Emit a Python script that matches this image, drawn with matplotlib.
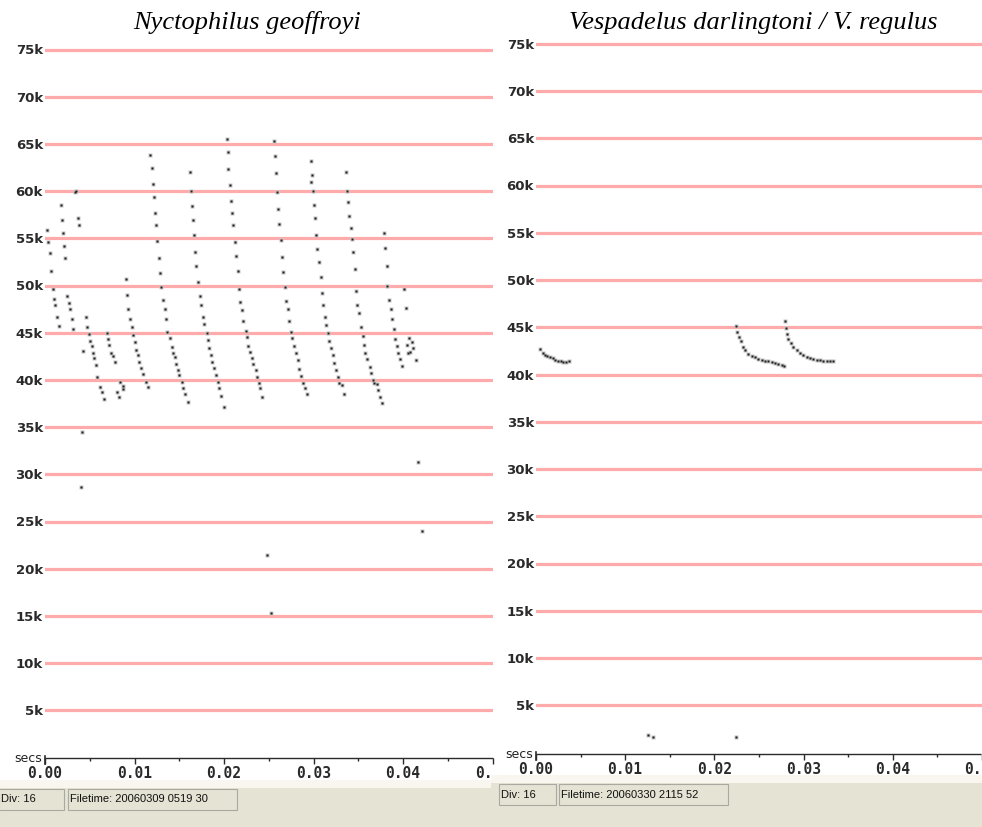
import matplotlib
matplotlib.use("Agg")
import matplotlib.pyplot as plt
from matplotlib.patches import Rectangle
import numpy as np

# ---------------- data ----------------
# Nyctophilus geoffroyi: zero-crossing dots, time (ms) and frequency (kHz), pulse by pulse
ng_ms = [
    0.26, 0.37, 0.56, 0.67, 0.86, 1.01, 1.12, 1.37, 1.53,
    1.75, 1.90, 2.01, 2.12, 2.27, 2.42, 2.65, 2.79, 2.98, 3.16,
    3.35, 3.50, 3.69, 3.80,
    4.25, 4.55, 4.69, 4.92, 5.06, 5.28, 5.40, 5.51, 5.66, 5.84, 6.15, 6.37, 6.63,
    6.89, 7.00, 7.15, 7.37, 7.56, 7.79, 8.08, 8.23, 8.38, 8.68, 8.75,
    9.05, 9.20, 9.31, 9.50, 9.68, 9.80, 10.02, 10.17, 10.39, 10.54, 10.73, 10.98, 11.25, 11.47,
    11.73, 11.92, 12.03, 12.18, 12.29, 12.40, 12.55, 12.70, 12.85, 12.99, 13.15, 13.37, 13.52,
    13.66, 13.97, 14.16, 14.33, 14.47, 14.67, 14.86, 14.97, 15.27, 15.45, 15.64, 15.94,
    16.20, 16.31, 16.39, 16.50, 16.68, 16.76, 16.87, 17.13, 17.29, 17.43, 17.65, 17.77,
    18.07, 18.18, 18.36, 18.51, 18.69, 18.92, 19.11, 19.30, 19.48, 19.70, 20.00,
    20.30, 20.41, 20.48, 20.67, 20.78, 20.93, 21.04, 21.23, 21.31, 21.53, 21.68, 21.79,
    22.05, 22.16, 22.42, 22.54, 22.71, 22.90, 23.09, 23.27, 23.54, 23.65, 23.91, 24.02, 24.28,
    25.59, 25.70, 25.81, 25.89, 26.07, 26.18, 26.34, 26.45, 26.63, 26.82, 26.93, 27.12,
    27.26, 27.45, 27.63, 27.82, 28.01, 28.24, 28.41, 28.60, 28.86, 29.05, 29.24,
    29.69, 29.80, 29.69, 29.91, 30.06, 30.17, 30.28, 30.42, 30.65, 30.84, 30.98, 31.09,
    31.28, 31.40, 31.65, 31.76, 31.95, 32.14, 32.32, 32.51, 32.77, 32.88, 33.15, 33.41,
    33.63, 33.71, 33.89, 34.00, 34.16, 34.27, 34.38, 34.64, 34.75, 34.89, 35.08, 35.27,
    35.50, 35.64, 35.75, 36.01, 36.31, 36.42, 36.61, 36.79, 37.06, 37.24, 37.43, 37.62,
    37.88, 38.02, 38.18, 38.25, 38.47, 38.63, 38.74, 39.00, 39.11, 39.36, 39.48, 39.66, 39.86,
    40.15, 40.34, 40.70, 40.97, 40.41, 40.78, 41.15, 40.59, 41.45,
    4.10, 4.02, 24.77, 25.25, 41.64, 42.09,
]
ng_khz = [
    55.9, 54.6, 53.4, 51.5, 49.6, 48.6, 47.9, 46.7, 45.7,
    58.5, 56.9, 55.6, 54.2, 52.9, 48.9, 48.1, 47.5, 46.4, 45.4,
    59.9, 60.0, 57.1, 56.4,
    43.1, 46.7, 45.6, 44.9, 44.1, 43.6, 42.9, 42.3, 41.6, 40.3, 39.2, 38.7, 38.0,
    45.0, 44.3, 43.7, 42.9, 42.5, 41.9, 38.7, 38.2, 39.8, 39.0, 39.4,
    50.7, 49.0, 47.5, 46.4, 45.6, 44.8, 44.0, 43.2, 42.6, 41.9, 41.3, 40.6, 39.8, 39.2,
    63.8, 62.4, 60.7, 59.4, 57.7, 56.4, 54.7, 52.9, 51.3, 49.8, 48.5, 47.5, 46.4,
    45.1, 44.4, 43.5, 42.9, 42.4, 41.7, 41.0, 40.5, 39.8, 39.1, 38.5, 37.7,
    62.0, 60.0, 58.4, 56.9, 55.3, 53.6, 52.1, 50.4, 48.9, 47.9, 46.7, 45.9,
    45.0, 44.2, 43.4, 42.6, 41.9, 41.3, 40.5, 39.8, 39.1, 38.3, 37.1,
    65.5, 64.1, 62.3, 60.6, 58.9, 57.7, 56.4, 54.6, 53.1, 51.5, 49.6, 48.3,
    47.4, 46.2, 45.2, 44.5, 43.6, 43.0, 42.3, 41.7, 41.0, 40.3, 39.7, 39.1, 38.2,
    65.3, 63.7, 61.9, 59.9, 58.1, 56.5, 54.8, 53.0, 51.4, 49.8, 48.4, 47.5,
    46.2, 45.1, 44.4, 43.6, 42.8, 42.1, 41.2, 40.4, 39.7, 39.1, 38.5,
    63.2, 61.7, 61.0, 60.0, 58.5, 57.1, 55.3, 53.9, 52.5, 50.9, 49.2, 47.9,
    46.7, 45.8, 45.0, 44.1, 43.4, 42.6, 41.8, 41.1, 40.3, 39.7, 39.5, 38.5,
    62.0, 60.0, 58.8, 57.4, 56.1, 54.9, 53.5, 51.7, 49.4, 47.9, 47.1, 45.6,
    44.7, 43.7, 42.9, 42.2, 41.4, 40.7, 40.0, 39.7, 39.6, 38.9, 38.2, 37.6,
    55.6, 54.0, 52.1, 49.9, 48.5, 47.5, 46.4, 45.4, 44.3, 43.6, 42.9, 42.2, 41.5,
    49.6, 47.6, 44.4, 44.0, 43.7, 43.0, 43.4, 42.9, 42.1,
    34.5, 28.7, 21.5, 15.3, 31.3, 24.0,
]

# Vespadelus darlingtoni / V. regulus: three shallow calls plus stray dots
vd_ms = [
    0.45, 0.75, 1.00, 1.26, 1.56, 1.86, 2.16, 2.46, 2.76, 3.05, 3.35, 3.65,
    22.35, 22.49, 22.68, 22.87, 23.09, 23.35, 23.72, 24.10, 24.47,
    24.84, 25.22, 25.59, 25.96, 26.34, 26.71, 27.08, 27.45, 27.71,
    27.82, 27.90, 28.01, 28.19, 28.46, 28.75, 29.13, 29.50, 29.87,
    30.25, 30.62, 30.99, 31.37, 31.74, 32.11, 32.49, 32.86, 33.22,
    12.48, 13.04, 22.35,
]
vd_khz = [
    42.7, 42.3, 42.1, 42.0, 41.8, 41.7, 41.5, 41.4, 41.4, 41.3, 41.3, 41.4,
    45.1, 44.5, 44.0, 43.5, 42.9, 42.6, 42.2, 42.0, 41.8,
    41.6, 41.5, 41.4, 41.4, 41.3, 41.2, 41.1, 41.0, 40.9,
    45.7, 44.9, 44.3, 43.8, 43.3, 42.9, 42.6, 42.3, 42.1,
    41.9, 41.7, 41.6, 41.5, 41.5, 41.4, 41.4, 41.4, 41.4,
    1.85, 1.67, 1.67,
]

freq_ticks = [5, 10, 15, 20, 25, 30, 35, 40, 45, 50, 55, 60, 65, 70, 75]
freq_labels = [f"{v}k" for v in freq_ticks]
time_ticks = [0.00, 0.01, 0.02, 0.03, 0.04, 0.05]
time_minor = [0.005, 0.015, 0.025, 0.035, 0.045]

titles = ["Nyctophilus geoffroyi", "Vespadelus darlingtoni / V. regulus"]
status_div = ["Div: 16", "Div: 16"]
status_time = ["Filetime: 20060309 0519 30", "Filetime: 20060330 2115 52"]

# ---------------- figure ----------------
W, H = 982, 827
fig = plt.figure(figsize=(W / 100, H / 100), dpi=100)
fig.patch.set_facecolor("white")


def px_axes(x0, y0, x1, y1):
    return fig.add_axes([x0 / W, 1 - y1 / H, (x1 - x0) / W, (y1 - y0) / H])


GRID = "#ffabab"
BEIGE = "#e5e3d3"
INK = "#1e1e1e"
LABEL = "#2a2a2a"
SEC_PER_PX = 1 / 8950.0
RULER_LEFT = 30  # room left of the zero tick for its label


def panel(x0, x1, y_base, px_per_k, title_x, secs, khz, title,
          ruler_y, label_off, bar_top, box1, box2, div_txt, time_txt):
    ytop = y_base - 78 * px_per_k
    tmax = (x1 - x0) * SEC_PER_PX
    ax = px_axes(x0, ytop, x1, y_base)
    ax.set_xlim(0, tmax)
    ax.set_ylim(0, 78)
    ax.set_facecolor("white")
    for s in ax.spines.values():
        s.set_visible(False)
    for v in freq_ticks:
        ax.axhline(v, color=GRID, lw=2.3, zorder=1)
    ax.set_yticks(freq_ticks)
    ax.set_yticklabels(freq_labels, family="DejaVu Sans", fontweight="bold",
                       fontsize=9.5, color=LABEL)
    ax.tick_params(axis="y", length=0, pad=1.5)
    ax.set_xticks([])

    t = np.asarray(secs) / 1000.0
    f = np.asarray(khz)
    ax.plot(t, f, "s", ms=3.0, color="#c4c4c4", mec="none", zorder=3, clip_on=False)
    ax.plot(t, f, "s", ms=1.6, color=INK, mec="none", zorder=4, clip_on=False)

    fig.text(title_x / W, 1 - 29 / H, title, ha="center", va="baseline",
             family="Liberation Serif", style="italic", fontsize=19)

    # time ruler: an axes that starts a little left of zero so the first label fits
    rh = 30
    rax = px_axes(x0 - RULER_LEFT, ruler_y, x1, ruler_y + rh)
    rax.set_xlim(-RULER_LEFT * SEC_PER_PX, tmax)
    rax.set_ylim(0, 1)
    rax.patch.set_alpha(0)
    for s in rax.spines.values():
        s.set_visible(False)
    rax.plot([0, tmax], [1, 1], color="#2a2a2a", lw=1.0, clip_on=False,
             solid_capstyle="butt")
    rax.set_xticks(time_ticks)
    rax.set_xticks(time_minor, minor=True)
    rax.set_yticks([])
    rax.tick_params(axis="x", which="both", top=True, bottom=False, labelbottom=False,
                    direction="in", color="#2a2a2a", width=1.0)
    rax.tick_params(axis="x", which="major", length=4)
    rax.tick_params(axis="x", which="minor", length=2)
    rax.plot([0, 0], [1 + 2 / rh, 1 - 6 / rh], color="#2a2a2a", lw=1.2, clip_on=False)
    for v in time_ticks:
        rax.text(v, 1 - label_off / rh, f"{v:.2f}", ha="center", va="center",
                 family="DejaVu Sans Mono", fontweight="bold", fontsize=10.5,
                 color=LABEL, clip_on=True)
    fig.text((x0 - 3) / W, 1 - (ruler_y + 4) / H, "secs", ha="right", va="baseline",
             family="DejaVu Sans", fontsize=9, color="#222")

    # status bar
    sx0 = x0 - 45 if x0 > 100 else 0
    sx1 = sx0 + 491
    fig.patches.append(Rectangle((sx0 / W, 1 - bar_top / H), (sx1 - sx0) / W, 8 / H,
                                 transform=fig.transFigure, facecolor="#f8f6ee",
                                 edgecolor="none", zorder=0))
    fig.patches.append(Rectangle((sx0 / W, 0), (sx1 - sx0) / W, 1 - bar_top / H,
                                 transform=fig.transFigure, facecolor=BEIGE,
                                 edgecolor="none", zorder=0))
    for (bx0, bx1), txt in ((box1, div_txt), (box2, time_txt)):
        fig.patches.append(Rectangle((bx0 / W, 1 - (bar_top + 22) / H),
                                     (bx1 - bx0) / W, 21 / H,
                                     transform=fig.transFigure, facecolor=BEIGE,
                                     edgecolor="#a9a9a2", lw=0.8, zorder=1))
        fig.text((bx0 + 2) / W, 1 - (bar_top + 11.5) / H, txt, ha="left", va="center",
                 family="Liberation Sans", fontsize=8, color="#111", zorder=2)


panel(45, 493, 757.5, 9.44, 247, ng_ms, ng_khz, titles[0],
      ruler_y=758, label_off=15, bar_top=788, box1=(-1, 64), box2=(68, 237),
      div_txt=status_div[0], time_txt=status_time[0])
panel(536, 982, 752.5, 9.45, 753, vd_ms, vd_khz, titles[1],
      ruler_y=754, label_off=16, bar_top=783, box1=(499, 556), box2=(559, 728),
      div_txt=status_div[1], time_txt=status_time[1])

fig.savefig("out.png", dpi=100, facecolor="white")
